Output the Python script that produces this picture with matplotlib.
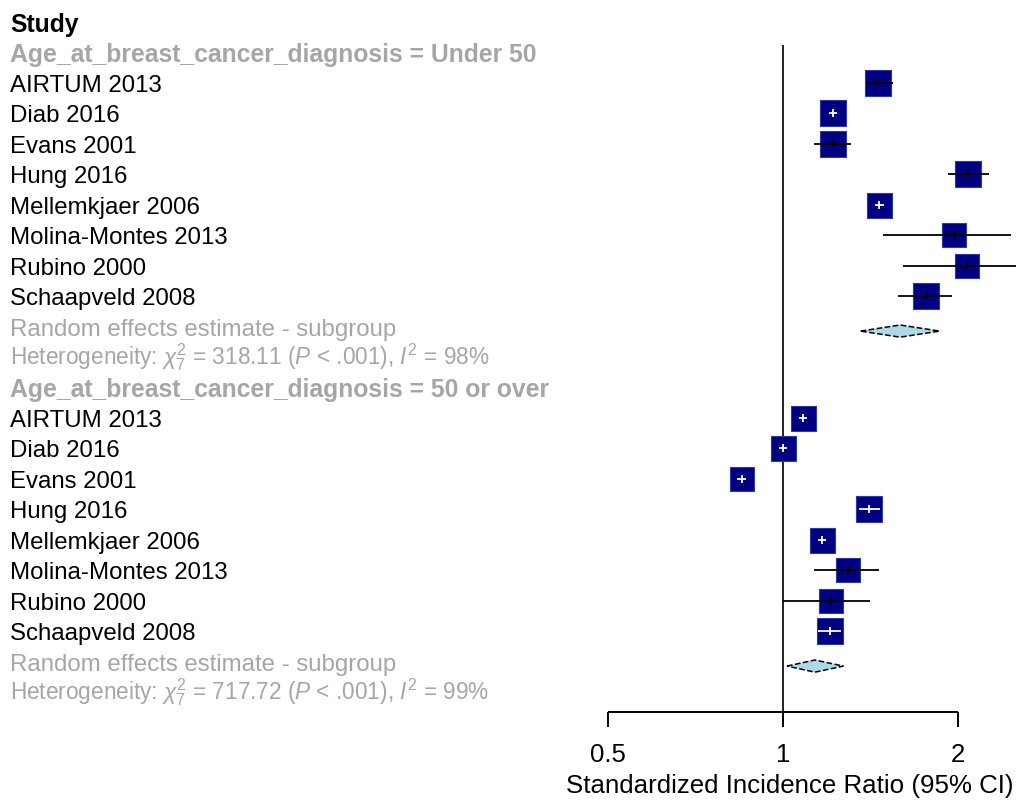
import numpy as np
import matplotlib
matplotlib.use("Agg")
import matplotlib.pyplot as plt
import matplotlib.transforms as mtransforms

plt.rcParams['font.family'] = ['Liberation Sans', 'DejaVu Sans']
plt.rcParams['mathtext.fontset'] = 'custom'
plt.rcParams['mathtext.rm'] = 'Liberation Sans'
plt.rcParams['mathtext.it'] = 'Liberation Sans:italic'
plt.rcParams['mathtext.bf'] = 'Liberation Sans:bold'

# studies (same in both subgroups)
studies = ['AIRTUM 2013', 'Diab 2016', 'Evans 2001', 'Hung 2016', 'Mellemkjaer 2006',
           'Molina-Montes 2013', 'Rubino 2000', 'Schaapveld 2008']
groups = ['Age_at_breast_cancer_diagnosis = Under 50',
          'Age_at_breast_cancer_diagnosis = 50 or over']

# subgroup Under 50
sir_u50 = [1.457, 1.219, 1.219, 2.08, 1.463, 1.97, 2.07, 1.76]
lo_u50 = [1.39, 1.20, 1.13, 1.92, 1.44, 1.486, 1.61, 1.58]
hi_u50 = [1.545, 1.24, 1.31, 2.26, 1.49, 2.47, 2.75, 1.95]
w_u50 = [26, 27, 27, 26, 25, 24, 24, 26]   # box size ~ weight
re_u50 = (1.59, 1.36, 1.86)
het_u50 = ('318.11', '98')

# subgroup 50 or over
sir_o50 = [1.082, 1.0, 0.85, 1.406, 1.167, 1.294, 1.21, 1.205]
lo_o50 = [1.065, 0.985, 0.835, 1.35, 1.15, 1.13, 1.0, 1.15]
hi_o50 = [1.10, 1.015, 0.865, 1.47, 1.185, 1.46, 1.41, 1.26]
w_o50 = [25, 25, 24, 27, 25, 24, 24, 26]
re_o50 = (1.135, 1.016, 1.27)
het_o50 = ('717.72', '99')

xticks = [0.5, 1, 2]
xlabel = 'Standardized Incidence Ratio (95% CI)'

grey = '#A6A6A6'
boxcol = '#000080'
fs = 17.3
fsb = 17.8
dy = 0.1  # small text nudge downwards

fig = plt.figure(figsize=(10.16, 8.01), dpi=100)
ax = fig.add_axes([0, 0, 1, 1])
ax.set_xscale('log')
ax.set_xlim(2 ** (-783 / 175), 2 ** (233 / 175))
ax.set_ylim(25.58, -0.722)
ax.axis('off')

tr = mtransforms.blended_transform_factory(ax.transAxes, ax.transData)
tx = 10 / 1016

ax.text(tx, 0 + dy, 'Study', transform=tr, fontsize=fsb, fontweight='bold', va='center')

row = 1
subgroups = [(sir_u50, lo_u50, hi_u50, w_u50, re_u50, het_u50),
             (sir_o50, lo_o50, hi_o50, w_o50, re_o50, het_o50)]
for g, (sir, lo, hi, w, re, het) in zip(groups, subgroups):
    ax.text(tx, row + dy, g, transform=tr, fontsize=fsb, fontweight='bold', color=grey, va='center')
    row += 1
    ys = np.arange(row, row + len(studies))
    for y, name, m, l, h, s in zip(ys, studies, sir, lo, hi, w):
        ax.text(tx, y + dy, name, transform=tr, fontsize=fs, va='center')
        # box half-width in data units (log scale)
        half = 2 ** (s / 2 / 175)
        inside = l >= m / half and h <= m * half
        ax.scatter([m], [y], marker='s', s=(s * 0.72) ** 2, color=boxcol,
                   edgecolor='#2a3aa8', linewidth=0.8, zorder=3)
        lc = 'white' if inside else 'black'
        ax.hlines(y, l, h, color=lc, lw=1.3, zorder=4)
        ax.vlines(m, y - 0.13, y + 0.13, color=lc, lw=1.3, zorder=4)
    row += len(studies)
    est, rl, rh = re
    ax.text(tx, row + dy, 'Random effects estimate - subgroup', transform=tr,
            fontsize=fs, color=grey, va='center')
    dh = 0.2
    ax.fill([rl, est, rh, est], [row + 0.15, row + 0.15 - dh, row + 0.15, row + 0.15 + dh],
            facecolor='#ADD8E6', edgecolor='black', linestyle='--', lw=1.1, zorder=3)
    row += 1
    ax.text(tx, row,
            r'Heterogeneity: $\chi^2_7$ = ' + het[0] + r' ($P$ < .001), $I^2$ = ' + het[1] + '%',
            transform=tr, fontsize=fs - 1, color=grey, va='center')
    row += 1

# reference line at 1
ax.vlines(1, 0.755, 23.15, color='#222222', lw=1.4, zorder=1)

# x axis
ax.hlines(22.66, xticks[0], xticks[-1], color='black', lw=1.4)
for t in xticks:
    ax.vlines(t, 22.66, 23.15, color='black', lw=1.4)
    ax.text(t, 24.07, f'{t:g}', ha='center', va='center', fontsize=18.5)
ax.text(2 ** ((790 - 783) / 175), 25.1, xlabel, ha='center', va='center', fontsize=18.6)

fig.savefig('out.png', dpi=100)
